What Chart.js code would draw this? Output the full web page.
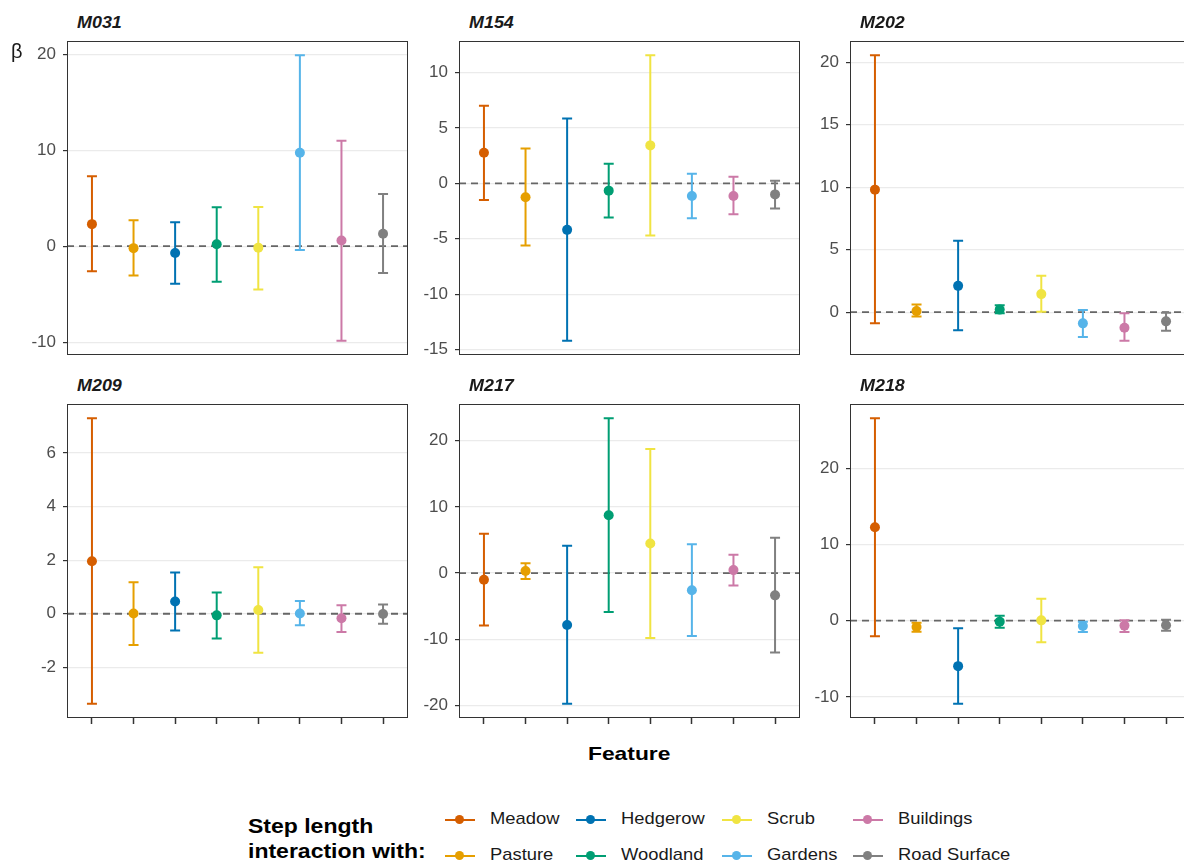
<!DOCTYPE html>
<html>
<head>
<meta charset="utf-8">
<script src="https://cdn.jsdelivr.net/npm/chart.js@4.4.1/dist/chart.umd.min.js"></script>
<style>
  body { margin: 0; background: #fff; overflow: hidden; font-family: "Liberation Sans", Arial, sans-serif; }
  #wrap { position: relative; width: 1192px; height: 863px; }
  canvas { position: absolute; }
  .ttl { position: absolute; font-weight: bold; font-style: italic; font-size: 16px; color: #1a1a1a; transform-origin: left center; transform: scaleX(1.12); }
  .lbl { position: absolute; white-space: nowrap; transform-origin: left center; }
  .key { position: absolute; width: 30px; height: 2px; }
  .key i { position: absolute; left: 10px; top: -4px; width: 9px; height: 9px; border-radius: 50%; }
</style>
</head>
<body>
<div id="wrap"></div>
<script>
// features (x categories) and colours
const features = ['Meadow', 'Pasture', 'Hedgerow', 'Woodland', 'Scrub', 'Gardens', 'Buildings', 'Road Surface'];
const colors = ['#D55E00', '#E69F00', '#0072B2', '#009E73', '#F0E442', '#56B4E9', '#CC79A7', '#808080'];
const panels = ['M031', 'M154', 'M202', 'M209', 'M217', 'M218'];

// estimates + 95% CI per individual
const M031_est = [2.3, -0.2, -0.7, 0.2, -0.15, 9.75, 0.6, 1.3];
const M031_lo  = [-2.6, -3.05, -3.9, -3.7, -4.5, -0.4, -9.85, -2.8];
const M031_hi  = [7.3, 2.7, 2.5, 4.05, 4.1, 19.9, 11.0, 5.45];

const M154_est = [2.76, -1.26, -4.2, -0.66, 3.42, -1.14, -1.14, -1.0];
const M154_lo  = [-1.5, -5.6, -14.2, -3.08, -4.7, -3.15, -2.8, -2.27];
const M154_hi  = [7.0, 3.15, 5.85, 1.77, 11.55, 0.87, 0.6, 0.24];

const M202_est = [9.8, 0.08, 2.1, 0.2, 1.44, -0.9, -1.25, -0.74];
const M202_lo  = [-0.9, -0.35, -1.46, -0.1, 0.02, -2.0, -2.29, -1.49];
const M202_hi  = [20.55, 0.6, 5.7, 0.55, 2.9, 0.16, -0.1, -0.05];

const M209_est = [1.96, 0.01, 0.46, -0.06, 0.14, 0.01, -0.17, -0.01];
const M209_lo  = [-3.36, -1.17, -0.63, -0.92, -1.46, -0.43, -0.68, -0.37];
const M209_hi  = [7.3, 1.18, 1.54, 0.79, 1.74, 0.48, 0.32, 0.35];

const M217_est = [-1.0, 0.3, -7.84, 8.74, 4.47, -2.6, 0.45, -3.37];
const M217_lo  = [-7.94, -0.9, -19.75, -5.88, -9.8, -9.5, -1.86, -12.0];
const M217_hi  = [5.93, 1.5, 4.12, 23.4, 18.74, 4.37, 2.76, 5.33];

const M218_est = [12.25, -0.83, -5.97, -0.13, 0.04, -0.7, -0.65, -0.61];
const M218_lo  = [-2.05, -1.44, -10.9, -0.92, -2.83, -1.48, -1.48, -1.31];
const M218_hi  = [26.56, -0.26, -1.0, 0.65, 2.88, -0.13, 0.04, 0.13];

// y tick labels per panel
const M031_ticks = [-10, 0, 10, 20];
const M154_ticks = [-15, -10, -5, 0, 5, 10];
const M202_ticks = [0, 5, 10, 15, 20];
const M209_ticks = [-2, 0, 2, 4, 6];
const M217_ticks = [-20, -10, 0, 10, 20];
const M218_ticks = [-10, 0, 10, 20];

const allData = [
  [M031_est, M031_lo, M031_hi, M031_ticks],
  [M154_est, M154_lo, M154_hi, M154_ticks],
  [M202_est, M202_lo, M202_hi, M202_ticks],
  [M209_est, M209_lo, M209_hi, M209_ticks],
  [M217_est, M217_lo, M217_hi, M217_ticks],
  [M218_est, M218_lo, M218_hi, M218_ticks]
];

const wrap = document.getElementById('wrap');
const colLeft = [67, 459, 850], rowTop = [41, 404];
const pw = 341, ph = 314, axW = 60;

function addText(txt, left, top, css) {
  const d = document.createElement('div');
  d.className = 'lbl';
  d.textContent = txt;
  d.style.left = left + 'px';
  d.style.top = top + 'px';
  Object.assign(d.style, css || {});
  wrap.appendChild(d);
  return d;
}

function noPad(s) {
  s.paddingTop = 0; s.paddingBottom = 0; s.paddingLeft = 0; s.paddingRight = 0;
}

panels.forEach(function(name, p) {
  const [est, lo, hi, yt] = allData[p];
  const row = Math.floor(p / 3), col = p % 3;
  const bottomRow = row === 1;

  // ggplot style 5% expansion (0 included because of the hline)
  let mn = Math.min(0, ...lo), mx = Math.max(0, ...hi);
  const pad = (mx - mn) * 0.05;

  const cv = document.createElement('canvas');
  cv.width = axW + pw;
  cv.height = ph + (bottomRow ? 6 : 0);
  cv.style.left = (colLeft[col] - axW) + 'px';
  cv.style.top = rowTop[row] + 'px';
  wrap.appendChild(cv);

  const t = document.createElement('div');
  t.className = 'ttl';
  t.textContent = name;
  t.style.left = (colLeft[col] + 10) + 'px';
  t.style.top = (rowTop[row] - 27) + 'px';
  wrap.appendChild(t);

  const errPlugin = {
    id: 'err' + p,
    beforeDatasetsDraw(chart) {
      const ctx = chart.ctx, x = chart.scales.x, y = chart.scales.y, a = chart.chartArea;
      ctx.save();
      // dashed zero line
      ctx.strokeStyle = '#666666';
      ctx.lineWidth = 1.8;
      ctx.setLineDash([7, 5]);
      ctx.beginPath();
      ctx.moveTo(a.left, y.getPixelForValue(0));
      ctx.lineTo(a.right, y.getPixelForValue(0));
      ctx.stroke();
      ctx.setLineDash([]);
      // error bars
      ctx.lineWidth = 2;
      est.forEach(function(v, i) {
        const px = x.getPixelForValue(i);
        const y1 = y.getPixelForValue(lo[i]), y2 = y.getPixelForValue(hi[i]);
        ctx.strokeStyle = colors[i];
        ctx.beginPath();
        ctx.moveTo(px, y1); ctx.lineTo(px, y2);
        ctx.moveTo(px - 5, y1); ctx.lineTo(px + 5, y1);
        ctx.moveTo(px - 5, y2); ctx.lineTo(px + 5, y2);
        ctx.stroke();
      });
      ctx.restore();
    },
    afterDraw(chart) {
      const ctx = chart.ctx, a = chart.chartArea;
      ctx.save();
      ctx.strokeStyle = '#333333';
      ctx.lineWidth = 1;
      ctx.strokeRect(a.left + 0.5, a.top + 0.5, a.right - a.left - 1, a.bottom - a.top - 1);
      ctx.restore();
    }
  };

  new Chart(cv, {
    type: 'scatter',
    data: {
      datasets: [{
        data: est.map((v, i) => ({ x: i, y: v })),
        pointBackgroundColor: colors,
        pointBorderWidth: 0,
        pointRadius: 5,
        pointHoverRadius: 5,
        clip: false
      }]
    },
    options: {
      responsive: false,
      animation: false,
      events: [],
      layout: { padding: 0, autoPadding: false },
      plugins: { legend: { display: false }, tooltip: { enabled: false } },
      scales: {
        x: {
          type: 'linear',
          min: -0.6,
          max: features.length - 1 + 0.6,
          display: bottomRow,
          afterBuildTicks: (s) => { s.ticks = features.map((f, i) => ({ value: i })); },
          afterFit: (s) => { noPad(s); s.height = bottomRow ? 6 : 0; },
          ticks: { display: false },
          grid: { drawOnChartArea: false, tickLength: 6, tickColor: '#333333', tickWidth: 1.5 },
          border: { display: false }
        },
        y: {
          min: mn - pad,
          max: mx + pad,
          afterBuildTicks: (s) => { s.ticks = yt.map(v => ({ value: v })); },
          afterFit: (s) => { noPad(s); s.width = axW; },
          ticks: { color: '#4d4d4d', font: { family: '"Liberation Sans", Arial', size: 17 }, padding: 7 },
          grid: { color: '#ebebeb', lineWidth: 1.2, tickLength: 4, tickColor: '#333333', tickWidth: 1.2 },
          border: { display: false }
        }
      }
    },
    plugins: [errPlugin]
  });
});

// axis labels
addText('\u03b2', 11, 40, { fontSize: '20px', color: '#1a1a1a' });
addText('Feature', 588, 743, { fontSize: '19px', fontWeight: 'bold', color: '#000', transform: 'scaleX(1.2)' });

// legend
addText('Step length', 248, 815, { fontSize: '20px', fontWeight: 'bold', color: '#000', transform: 'scaleX(1.15)' });
addText('interaction with:', 248, 840, { fontSize: '20px', fontWeight: 'bold', color: '#000', transform: 'scaleX(1.15)' });

const legCols = [445, 576, 722, 853];
const legRows = [820, 856];
features.forEach(function(f, i) {
  const c = Math.floor(i / 2), r = i % 2;
  const k = document.createElement('div');
  k.className = 'key';
  k.style.left = legCols[c] + 'px';
  k.style.top = (legRows[r] - 1) + 'px';
  k.style.background = colors[i];
  const dot = document.createElement('i');
  dot.style.background = colors[i];
  k.appendChild(dot);
  wrap.appendChild(k);
  addText(f, legCols[c] + 45, legRows[r] - 11, { fontSize: '17px', color: '#1a1a1a', transform: 'scaleX(1.08)' });
});
</script>
</body>
</html>
